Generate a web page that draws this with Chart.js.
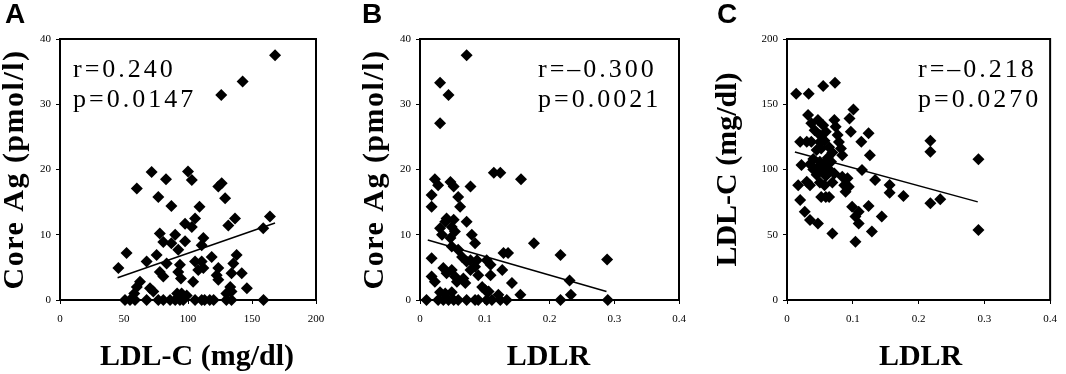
<!DOCTYPE html>
<html><head><meta charset="utf-8">
<script src="https://cdn.jsdelivr.net/npm/chart.js@4.4.1/dist/chart.umd.min.js"></script>
<style>
html,body{margin:0;padding:0;background:#fff;}
body{width:1066px;height:374px;position:relative;overflow:hidden;}
canvas{position:absolute;top:0;}
</style></head><body>
<canvas id="cA" width="340" height="374" style="left:0px"></canvas>
<canvas id="cB" width="340" height="374" style="left:360px"></canvas>
<canvas id="cC" width="353" height="374" style="left:713px"></canvas>
<script>
// ---------- DATA ----------
// Panel A: LDL-C (mg/dl) vs Core Ag (pmol/l)
const pointsA = [
 [168,37.5],[142.7,33.5],[126,31.4],
 [71.6,19.6],[100,19.7],[103,18.4],[82.8,18.5],[60,17.1],[123.7,17.4],[126.3,17.9],[76.8,15.8],[129,15.6],[87,14.4],[109,14.3],
 [136.7,12.5],[131.5,11.4],[164,12.8],[158.8,11.0],[105.5,12.5],[97.7,11.7],[103,11.2],
 [78,10.2],[80.7,8.9],[90,10],[87,8.7],[92.4,7.7],[97.7,9.0],[112,9.5],[110.7,8.4],
 [52,7.2],[75.5,6.9],[67.7,5.9],[45.6,4.9],[83.3,5.6],[78,4.3],[80.7,3.6],[93.7,5.4],[92.4,4.3],[94.5,3.3],
 [105.5,5.9],[110.7,5.9],[108,4.6],[112,4.9],[104,2.8],[62.5,2.8],[60,2.0],[70.3,1.8],[72.9,1.3],
 [118.5,6.6],[138,6.9],[135.4,5.6],[123.7,4.9],[122.4,3.8],[123.7,3.1],[134,4.1],[142,4.1],[146,1.8],[133,2.0],[134,1.3],[130,1.0],
 [91.5,1.0],[95,1.0],[99,0.7],[58,1.0],
 [50.8,0],[54.7,0],[58.6,0],[67.7,0],[76.8,0],[80.7,0],[86,0],[90,0],[93.7,0],[96.3,0],[105.5,0],[110.7,0],[113,0],[117,0],[120,0],[130,0],[134,0],[159,0]
];
const fitA = [[45,3.4],[168,11.8]];
const xTicksA = [0,50,100,150,200];
const yTicksA = [0,10,20,30,40];
const statsA = ['r=0.240','p=0.0147'];

// Panel B: LDLR vs Core Ag (pmol/l)
const pointsB = [
 [0.072,37.5],[0.031,33.3],[0.044,31.4],[0.031,27.1],
 [0.114,19.5],[0.124,19.5],[0.156,18.5],[0.023,18.5],[0.028,17.6],[0.047,18.1],[0.052,17.4],[0.059,15.8],[0.062,14.3],[0.078,17.4],[0.018,16.1],[0.018,14.3],
 [0.041,12.5],[0.039,12.0],[0.052,12.3],[0.049,11.2],[0.054,10.5],[0.072,12.0],[0.031,11.0],[0.034,10.0],[0.080,10.0],[0.085,8.7],[0.047,9.5],[0.049,8.2],
 [0.176,8.7],[0.129,7.2],[0.136,7.2],[0.018,6.4],[0.059,7.7],[0.065,6.6],[0.072,5.9],[0.078,6.1],[0.088,6.1],[0.085,5.1],[0.078,4.6],[0.103,6.1],[0.109,5.4],[0.127,4.6],
 [0.217,6.9],[0.289,6.2],
 [0.018,3.6],[0.023,2.8],[0.036,4.9],[0.041,4.1],[0.049,4.6],[0.054,3.6],[0.057,2.8],[0.067,3.3],[0.070,2.6],[0.090,3.8],[0.109,3.8],[0.142,2.6],[0.231,3.0],
 [0.096,2.0],[0.101,1.5],[0.106,1.3],[0.031,1.2],[0.039,1.0],[0.049,1.2],[0.121,0.8],[0.155,0.8],[0.233,0.8],
 [0.010,0],[0.028,0],[0.036,0],[0.044,0],[0.052,0],[0.059,0],[0.072,0],[0.085,0],[0.090,0],[0.103,0],[0.111,0],[0.124,0],[0.134,0],[0.217,0],[0.290,0]
];
const fitB = [[0.012,9.2],[0.288,1.3]];
const xTicksB = [0,0.1,0.2,0.3,0.4];
const yTicksB = [0,10,20,30,40];
const statsB = ['r=\u20130.300','p=0.0021'];

// Panel C: LDLR vs LDL-C (mg/dl)
const pointsC = [
 [0.014,158],[0.033,158],[0.055,164],[0.073,166.5],[0.101,146],[0.095,139],
 [0.032,141.8],[0.037,135.4],[0.047,138],[0.055,134],[0.042,130],[0.050,126.4],[0.059,129],
 [0.072,138],[0.074,132.8],[0.077,126.4],[0.079,121],[0.082,116],[0.084,111],
 [0.097,129],[0.124,127.7],[0.113,121.3],[0.126,111],
 [0.020,121.3],[0.030,121.3],[0.037,121.3],[0.050,121],[0.057,122],[0.045,115],[0.052,116],
 [0.064,117],[0.069,113],[0.062,109],[0.050,106],[0.040,108],[0.035,104],[0.047,102],[0.057,103],[0.067,106],
 [0.022,103.4],[0.114,99.6],
 [0.040,100],[0.045,96],[0.055,99],[0.064,100],[0.059,95],[0.072,97],[0.050,90],[0.057,88],[0.069,90],
 [0.017,88],[0.030,90.7],[0.035,88],
 [0.084,94.5],[0.092,93.2],[0.087,88],[0.089,83],[0.094,86.8],
 [0.134,92],[0.020,76.6],[0.052,79],[0.059,79],[0.064,79],
 [0.099,71.5],[0.109,67.7],[0.104,63.9],[0.109,58.7],[0.124,72],[0.144,63.9],
 [0.027,67.7],[0.035,61.3],[0.047,58.7],[0.069,51],[0.129,52.4],[0.104,44.7],
 [0.218,122],[0.218,113.6],[0.291,107.8],[0.156,88.1],[0.156,82.2],[0.177,79.7],[0.218,74.1],[0.233,77.2],[0.291,53.6]
];
const fitC = [[0.012,113.4],[0.290,75.2]];
const xTicksC = [0,0.1,0.2,0.3,0.4];
const yTicksC = [0,50,100,150,200];
const statsC = ['r=\u20130.218','p=0.0270'];

// ---------- DRAWING ----------
const SERIF = '"Liberation Serif","Times New Roman",serif';
const SANS = '"Liberation Sans",Arial,sans-serif';

function decor(opt){
  return {
    id:'decor',
    beforeDatasetsDraw(chart){
      const {ctx, chartArea:a} = chart;
      ctx.save();
      ctx.strokeStyle = '#000'; ctx.lineWidth = 2;
      ctx.strokeRect(a.left, a.top, a.right-a.left, a.bottom-a.top);
      ctx.restore();
    },
    afterDraw(chart){
      const {ctx, chartArea:a} = chart;
      ctx.save();
      ctx.fillStyle = '#000';
      // panel letter
      ctx.font = 'bold 28px ' + SANS;
      ctx.textAlign = 'left'; ctx.textBaseline = 'alphabetic';
      ctx.fillText(opt.letter, opt.letterX, 23);
      // stats
      ctx.font = '26px ' + SERIF;
      ctx.letterSpacing = '3px';
      ctx.fillText(opt.stats[0], opt.statsX, 77);
      ctx.fillText(opt.stats[1], opt.statsX, 107);
      // axis titles
      ctx.letterSpacing = '0px';
      ctx.font = 'bold 30px ' + SERIF;
      ctx.textAlign = 'center'; ctx.textBaseline = 'middle';
      ctx.fillText(opt.xTitle, (a.left+a.right)/2 + opt.xTitleDx, 357);
      ctx.letterSpacing = opt.yTitleSpacing;
      ctx.translate(15, (a.top+a.bottom)/2);
      ctx.rotate(-Math.PI/2);
      ctx.fillText(opt.yTitle, 0, 0);
      ctx.restore();
    }
  };
}

function fmt(v){ return String(Math.round(v*1000)/1000); }

function makePanel(id, pts, fit, xTicks, yTicks, opt){
  const tickFont = {family: SERIF, size: 11};
  new Chart(document.getElementById(id), {
    type: 'scatter',
    data: {
      datasets: [
        { data: pts.map(p => ({x:p[0], y:p[1]})), pointStyle:'rectRot', pointRadius:6,
          backgroundColor:'#000', borderColor:'#000', borderWidth:0, clip:false },
        { type:'line', data: fit.map(p => ({x:p[0], y:p[1]})), borderColor:'#000', borderWidth:1.5,
          pointRadius:0, showLine:true, fill:false, clip:false }
      ]
    },
    options: {
      responsive:false, animation:false, events:[],
      layout:{ padding:{ top:39, right:opt.padRight, left:0, bottom:0 }, autoPadding:false },
      plugins:{ legend:{display:false}, tooltip:{enabled:false} },
      scales:{
        x:{ type:'linear', min:xTicks[0], max:xTicks[xTicks.length-1],
            afterBuildTicks: s => { s.ticks = xTicks.map(v => ({value:v})); },
            afterFit: s => { s.height = 74; },
            grid:{ drawOnChartArea:false, drawTicks:true, tickLength:4, color:'#000', lineWidth:1 },
            border:{ display:false },
            ticks:{ font:tickFont, color:'#000', padding:9, maxRotation:0, autoSkip:false, callback: v => fmt(v) } },
        y:{ type:'linear', min:yTicks[0], max:yTicks[yTicks.length-1],
            afterBuildTicks: s => { s.ticks = yTicks.map(v => ({value:v})); },
            afterFit: s => { s.width = opt.yWidth; },
            grid:{ drawOnChartArea:false, drawTicks:true, tickLength:4, color:'#000', lineWidth:1 },
            border:{ display:false },
            ticks:{ font:tickFont, color:'#000', padding:5, autoSkip:false, callback: v => fmt(v) } }
      }
    },
    plugins:[decor(opt)]
  });
}

makePanel('cA', pointsA, fitA, xTicksA, yTicksA,
  {letter:'A', letterX:5, stats:statsA, statsX:73, xTitle:'LDL-C (mg/dl)', xTitleDx:9, yTitle:'Core Ag (pmol/l)', yTitleSpacing:'1.5px', padRight:24, yWidth:60});
makePanel('cB', pointsB, fitB, xTicksB, yTicksB,
  {letter:'B', letterX:2, stats:statsB, statsX:178, xTitle:'LDLR', xTitleDx:-1, yTitle:'Core Ag (pmol/l)', yTitleSpacing:'1.5px', padRight:21, yWidth:60});
makePanel('cC', pointsC, fitC, xTicksC, yTicksC,
  {letter:'C', letterX:4, stats:statsC, statsX:205, xTitle:'LDLR', xTitleDx:2, yTitle:'LDL-C (mg/dl)', yTitleSpacing:'0px', padRight:8, yWidth:74});
</script>
</body></html>
